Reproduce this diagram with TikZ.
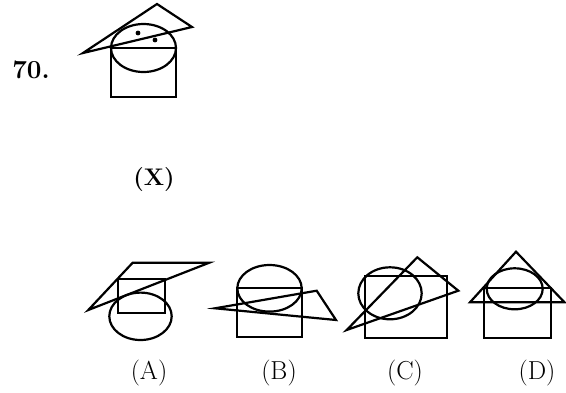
\documentclass[tikz,border=0pt]{standalone}
\usepackage{fontspec}
\usepackage{tikz}

\begin{document}
\begin{tikzpicture}[x=1pt,y=-1pt,line width=2.2pt,
  lbl/.style={font=\fontsize{26}{28}\selectfont}]
\useasboundingbox (0,0) rectangle (566,392);
% question figure
\node[font=\bfseries\fontsize{26}{28}\selectfont] (num) at (31,70) {70.};
\draw (111,48) rectangle (176,97);
\draw (143.5,48) ellipse [x radius=32.5,y radius=24];
\draw (83,53)--(157,4)--(192,27)--cycle;
\fill (138,33) circle [radius=2.4];
\fill (155,40) circle [radius=2.4];
\node[font=\bfseries\fontsize{24}{26}\selectfont] (qx) at (154,180) {(X)};
% answer figures
\draw (117.7,279.3) rectangle (165,313.3);
\draw (140.5,316.3) ellipse [x radius=31.2,y radius=23.7];
\draw (88.3,310)--(132.7,262.7)--(209.3,262.7)--cycle;
\draw (237.3,287.7) rectangle (301.7,337.3);
\draw (269.5,288.3) ellipse [x radius=32.2,y radius=23.3];
\draw (215,308.3)--(316.7,290.7)--(336,320)--cycle;
\draw (365,276) rectangle (446.7,338.3);
\draw (390,293.3) ellipse [x radius=31.7,y radius=26];
\draw (346.7,330)--(417.3,257.3)--(458.3,290.7)--cycle;
\draw (484,288.3) rectangle (550.7,338.3);
\draw (514.7,288.8) ellipse [x radius=28,y radius=20.5];
\draw (470,302.3)--(516,251.7)--(564.5,302.3)--cycle;
\node[lbl] (la) at (149,373) {(A)};
\node[lbl] (lb) at (279,373) {(B)};
\node[lbl] (lc) at (405,373) {(C)};
\node[lbl] (ld) at (537,373) {(D)};
\end{tikzpicture}
\end{document}
